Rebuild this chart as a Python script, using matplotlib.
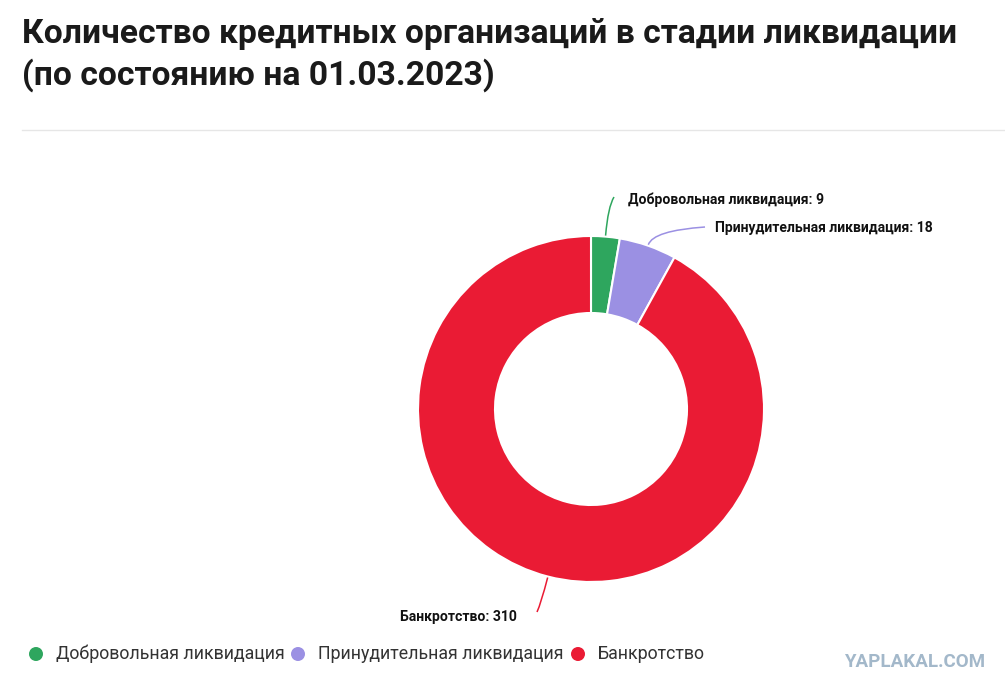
import matplotlib
matplotlib.use("Agg")
import matplotlib.pyplot as plt
import numpy as np
from matplotlib.path import Path
from matplotlib.patches import PathPatch, Circle

# ---- data ----
categories = ["Добровольная ликвидация", "Принудительная ликвидация", "Банкротство"]
values = [9, 18, 310]
colors = ["#2ea65e", "#9b90e3", "#ea1b34"]
title_lines = ["Количество кредитных организаций в стадии ликвидации",
               "(по состоянию на 01.03.2023)"]

W, H = 1005, 692
fig = plt.figure(figsize=(W / 100, H / 100), dpi=100)
ax = fig.add_axes([0, 0, 1, 1])

def Y(py):
    return H - py

cx, cy, R, ring = 591, 409, 173, 77
ax.pie(values, colors=colors, center=(cx, Y(cy)), radius=R, startangle=90,
       counterclock=False, wedgeprops=dict(width=ring, edgecolor="white", linewidth=1.5))
ax.set_xlim(0, W)
ax.set_ylim(0, H)
ax.set_aspect("equal")
ax.axis("off")

# data labels with connectors
total = sum(values)
cum = np.cumsum([0] + values)
label_specs = [
    dict(tx=628, ty=200, ha="left", end=(614, 197), ext=30),
    dict(tx=715, ty=228, ha="left", end=(705, 227), ext=16),
    dict(tx=517, ty=617, ha="right", end=(537, 612), ext=28),
]
for i, (cat, v) in enumerate(zip(categories, values)):
    mid = (cum[i] + v / 2) / total * 2 * np.pi
    sx = cx + (R + 1) * np.sin(mid)
    sy = cy - (R + 1) * np.cos(mid)
    spec = label_specs[i]
    ctx = cx + (R + spec["ext"]) * np.sin(mid)
    cty = cy - (R + spec["ext"]) * np.cos(mid)
    ex, ey = spec["end"]
    path = Path([(sx, Y(sy)), (ctx, Y(cty)), (ex, Y(ey))],
                [Path.MOVETO, Path.CURVE3, Path.CURVE3])
    ax.add_patch(PathPatch(path, facecolor="none", edgecolor=colors[i], lw=1.1))
    ax.text(spec["tx"], Y(spec["ty"]), f"{cat}: {v}", ha=spec["ha"], va="center",
            fontsize=10.1, fontweight="bold", family="Roboto", color="#111111")

# title
for line, base in zip(title_lines, [43, 85]):
    ax.text(22, Y(base), line, ha="left", va="baseline", fontsize=24.2,
            fontweight="bold", family="Roboto", color="#1a1a1a")

# separator line
ax.plot([22, W], [Y(130), Y(130)], color="#e6e6e6", lw=1)

# legend
leg_x = [36, 298, 578]
for i, cat in enumerate(categories):
    ax.add_patch(Circle((leg_x[i], Y(654)), 7, color=colors[i], lw=0))
    ax.text(leg_x[i] + 20, Y(654), cat, ha="left", va="center", fontsize=12.8,
            family="Roboto", color="#333333")

# watermark
ax.text(985, Y(662), "YAPLAKAL.COM", ha="right", va="center", fontsize=13.5,
        fontweight="bold", family="Roboto", color="#a3b8ca")

fig.savefig("out.png", dpi=100, facecolor="white")
